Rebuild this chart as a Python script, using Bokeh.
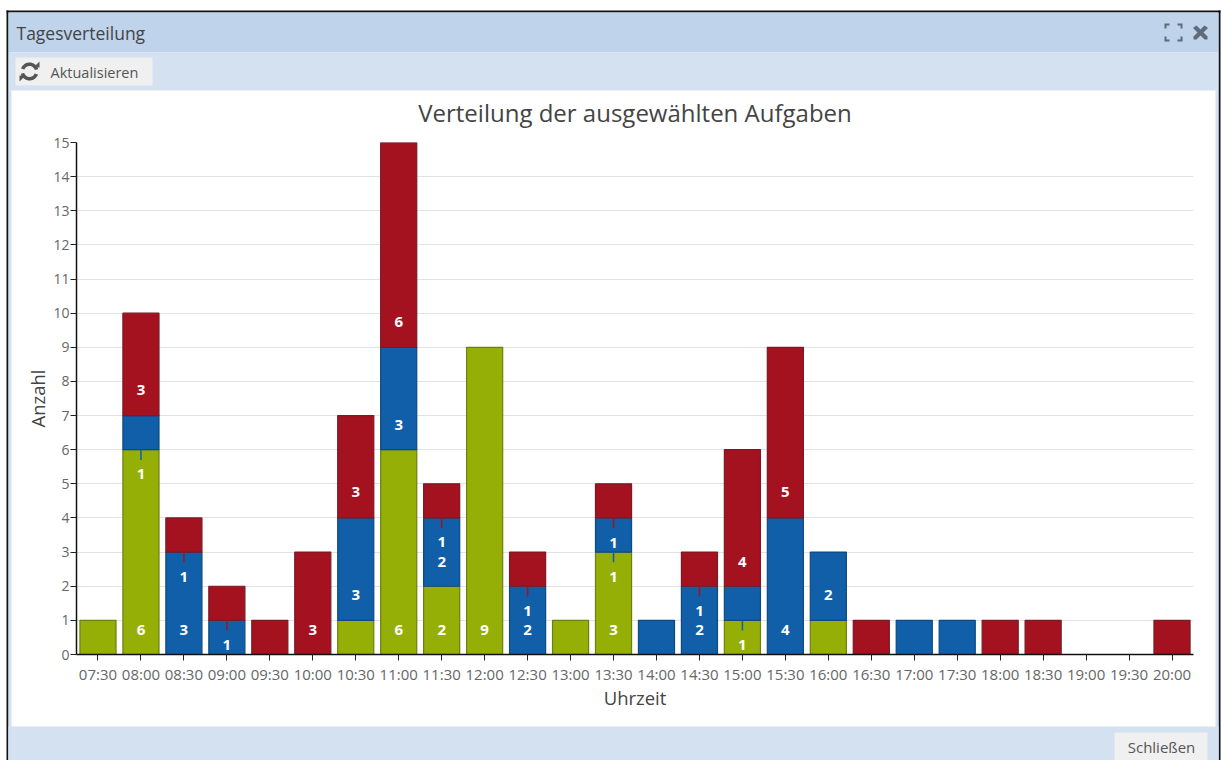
import numpy as np
from bokeh.core.properties import value
from bokeh.embed import file_html
from bokeh.layouts import column
from bokeh.models import ColumnDataSource, Title
from bokeh.plotting import figure
from bokeh.resources import INLINE

times = ["07:30","08:00","08:30","09:00","09:30","10:00","10:30","11:00","11:30","12:00","12:30","13:00","13:30",
         "14:00","14:30","15:00","15:30","16:00","16:30","17:00","17:30","18:00","18:30","19:00","19:30","20:00"]
green = [1,6,0,0,0,0,1,6,2,9,0,1,3,0,0,1,0,1,0,0,0,0,0,0,0,0]
blue  = [0,1,3,1,0,0,3,3,2,0,2,0,1,1,2,1,4,2,0,1,1,0,0,0,0,0]
red   = [0,3,1,1,1,3,3,6,1,0,1,0,1,0,1,4,5,0,1,0,0,1,1,0,0,1]

label_times  = ["08:00","08:00","08:00","08:30","08:30","09:00","10:00","10:30","10:30","11:00","11:00","11:00",
                "11:30","11:30","11:30","12:00","12:30","12:30","13:30","13:30","13:30","14:30","14:30",
                "15:00","15:00","15:30","15:30","16:00"]
label_values = ["6","1","3","3","1","1","3","3","3","6","3","6","2","2","1","9","2","1","3","1","1","2","1","1","4","4","5","2"]
label_levels = [0.73,5.3,7.75,0.73,2.26,0.27,0.73,1.73,4.75,0.73,6.72,9.75,0.73,2.72,3.3,0.73,0.73,1.28,0.73,2.28,
                3.28,0.73,1.28,0.27,2.72,0.73,4.75,1.73]

leader_times  = ["08:00","08:30","09:00","11:30","12:30","13:30","13:30","14:30","15:00"]
leader_tops   = [6,3,1,4,2,4,3,2,1]
leader_colors = ["#105FA8","#A4111F","#A4111F","#A4111F","#A4111F","#A4111F","#105FA8","#A4111F","#105FA8"]

W, H = 1222, 760
FL, FR, FT, FB = 76, 1193, 142, 654

# the window around the chart: a figure whose scale is the page's own pixels
chrome = figure(width=W, height=H, x_range=(0, W), y_range=(H, 0), toolbar_location=None, output_backend="svg",
                min_border=0, outline_line_color=None, background_fill_color="white", border_fill_color="white",
                x_axis_type=None, y_axis_type=None, frame_align=False)
chrome.grid.visible = False
chrome.styles = {"position": "absolute", "left": "0px", "top": "0px"}


def box(l, r, t, b, color):
    chrome.quad(left=[l], right=[r], top=[t], bottom=[b], fill_color=color, line_color=None)


def poly(xs, ys, color):
    chrome.patch(x=list(xs), y=list(ys), fill_color=color, line_color=None)


def text(s, x, y, size, color="#555555", align="left"):
    chrome.text(x=[x], y=[y], text=[s], text_font=value("Open Sans"), text_font_size=size, text_color=color,
                text_align=align, text_baseline="middle")


box(6, 1220, 10, 12, "#111111")
box(6, 8, 10, H, "#111111")
box(1218, 1220, 10, H, "#111111")
box(8, 1218, 12, 52, "#BFD3EB")
box(8, 1218, 52, 90, "#D4E1F1")
box(8, 11, 90, H, "#D4E1F1")
box(1215, 1218, 90, H, "#D4E1F1")
box(8, 1218, 726, H, "#D4E1F1")
box(15, 152, 57, 85, "#F0F0F0")
box(1114, 1207, 732, H, "#F0F0F0")
text("Tagesverteilung", 16, 32, "17.5px", "#444444")
text("Aktualisieren", 50, 72, "14.5px")
text("Schließen", 1161, 746, "15px", align="center")

for a0, a1 in ((200, 345), (20, 165)):
    ang = np.radians(np.linspace(a0, a1, 14))
    cx, cy = 29, 71
    poly(np.r_[cx + 9 * np.cos(ang), cx + 5.5 * np.cos(ang[::-1])],
         np.r_[cy + 9 * np.sin(ang), cy + 5.5 * np.sin(ang[::-1])], "#555555")
poly([33, 39, 39], [67, 67, 61], "#555555")
poly([25, 19, 19], [75, 75, 81], "#555555")

for cx, sx in ((1164, 1), (1182, -1)):
    for cy, sy in ((23, 1), (41, -1)):
        poly([cx, cx + 5 * sx, cx + 5 * sx, cx + 2 * sx, cx + 2 * sx, cx],
             [cy, cy, cy + 2 * sy, cy + 2 * sy, cy + 5 * sy, cy + 5 * sy], "#5F6B7A")
poly([1193, 1196, 1207, 1207, 1204, 1193], [27, 25, 36, 39, 39, 28], "#5F6B7A")
poly([1207, 1204, 1193, 1193, 1196, 1207], [27, 25, 36, 39, 39, 28], "#5F6B7A")

title = Title(text="Verteilung der ausgewählten Aufgaben", align="center",
              text_font="Open Sans", text_font_size="24px", text_font_style="normal", text_color="#444444", standoff=27)
p = figure(width=W, height=H, x_range=times, y_range=(0, 15), toolbar_location=None, output_backend="svg",
           min_border_left=FL, min_border_right=W-FR, min_border_top=FT, min_border_bottom=H-FB,
           x_axis_label="Uhrzeit", y_axis_label="Anzahl", title=title, outline_line_color=None,
           background_fill_color=None, border_fill_color=None, frame_align=False)
p.styles = {"position": "absolute", "left": "0px", "top": "0px"}

p.xgrid.grid_line_color = None
p.ygrid.grid_line_color = "#E2E2E2"
p.ygrid.grid_line_width = 1
p.yaxis.ticker = list(range(16))
for ax in (p.xaxis[0], p.yaxis[0]):
    ax.axis_line_color = "#111111"
    ax.axis_line_width = 1.5
    ax.major_tick_line_color = "#222222"
    ax.major_tick_in = 0
    ax.major_tick_out = 6
    ax.minor_tick_line_color = None
    ax.major_label_text_font = "Open Sans"
    ax.major_label_text_color = "#666666"
    ax.axis_label_text_font = "Open Sans"
    ax.axis_label_text_font_size = "18.5px"
    ax.axis_label_text_font_style = "normal"
    ax.axis_label_text_color = "#444444"
p.xaxis.major_label_text_font_size = "15px"
p.yaxis.major_label_text_font_size = "14px"
p.xaxis.major_label_standoff = 3
p.yaxis.major_label_standoff = 1
p.xaxis.axis_label_standoff = -2
p.yaxis.axis_label_standoff = 0

base = np.zeros(len(times))
for vals, fill, edge in ((green, "#95AF07", "#6C7F12"), (blue, "#105FA8", "#0D4A80"), (red, "#A4111F", "#7A1A26")):
    v = np.array(vals, dtype=float)
    keep = v > 0
    src = ColumnDataSource(dict(t=[t for t, k in zip(times, keep) if k], b=base[keep], top=(base + v)[keep]))
    p.vbar(x="t", bottom="b", top="top", width=0.84, source=src, fill_color=fill, line_color=edge, line_width=1.2)
    base = base + v

p.segment(x0=leader_times, x1=leader_times, y0=leader_tops, y1=[t - 0.3 for t in leader_tops],
          line_color=leader_colors, line_width=1.5)
p.text(x=label_times, y=label_levels, text=label_values, text_color="white", text_font=value("Open Sans"),
       text_font_size="15px", text_font_style="bold", text_align="center", text_baseline="middle")

page = column(chrome, p, width=W, height=H, styles={"position": "absolute", "left": "0px", "top": "0px"})
open("out.html", "w").write(file_html(page, INLINE))
